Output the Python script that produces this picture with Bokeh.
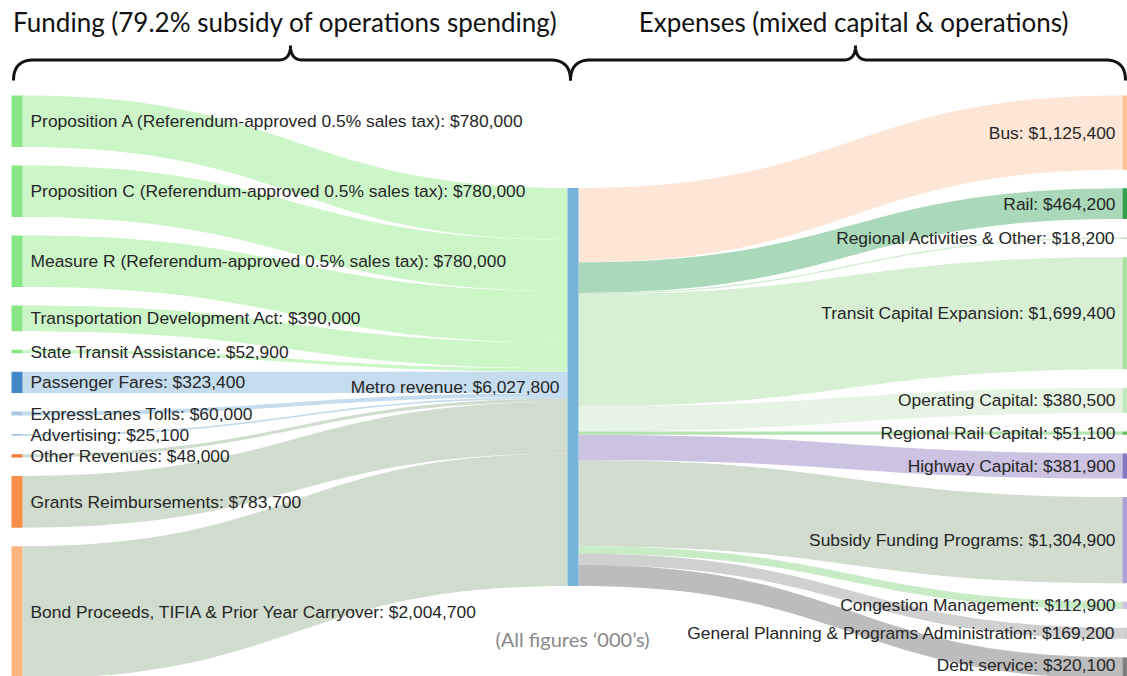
import numpy as np
from bokeh.plotting import figure
from bokeh.models import Range1d
from bokeh.core.properties import value
from bokeh.embed import file_html
from bokeh.resources import INLINE

# ---------------- data (thousands of $) ----------------
sources = [
    "Proposition A (Referendum-approved 0.5% sales tax)",
    "Proposition C (Referendum-approved 0.5% sales tax)",
    "Measure R (Referendum-approved 0.5% sales tax)",
    "Transportation Development Act",
    "State Transit Assistance",
    "Passenger Fares",
    "ExpressLanes Tolls",
    "Advertising",
    "Other Revenues",
    "Grants Reimbursements",
    "Bond Proceeds, TIFIA & Prior Year Carryover",
]
source_values = [780000, 780000, 780000, 390000, 52900, 323400, 60000, 25100, 48000, 783700, 2004700]

hub = "Metro revenue"

targets = [
    "Bus",
    "Rail",
    "Regional Activities & Other",
    "Transit Capital Expansion",
    "Operating Capital",
    "Regional Rail Capital",
    "Highway Capital",
    "Subsidy Funding Programs",
    "Congestion Management",
    "General Planning & Programs Administration",
    "Debt service",
]
target_values = [1125400, 464200, 18200, 1699400, 380500, 51100, 381900, 1304900, 112900, 169200, 320100]

title_left = "Funding (79.2% subsidy of operations spending)"
title_right = "Expenses (mixed capital & operations)"
note = "(All figures \u2018000\u2019s)"

# ---------------- styles ----------------
src_node_colors = ["#86e783", "#86e783", "#86e783", "#86e783", "#86e783",
                   "#3f88c5", "#a6c8e6", "#a6c8e6", "#f47a3c", "#f98e48", "#fdb47d"]
src_flow_colors = ["#ccf6c8", "#ccf6c8", "#ccf6c8", "#ccf6c8", "#ccf6c8",
                   "#c4dced", "#c4dced", "#c4dced", "#d0dcce", "#d0dcce", "#d0dcce"]
tgt_node_colors = ["#fdc08f", "#34a04c", "#a5dba5", "#a8e0a2", "#c2e9be", "#5fbf5f",
                   "#8479c0", "#a9a1d4", "#c8c4e2", "#cfcfcf", "#7f7f7f"]
tgt_flow_colors = ["#fde6d5", "#a9d9b8", "#cdebcd", "#d7f0d4", "#e6f4e4", "#b4e3b2",
                   "#cbc3e1", "#d1dccf", "#c6ebc5", "#d0d0d0", "#bcbcbc"]
hub_color = "#76b3da"
label_font = value("Liberation Sans")
label_color = "#262626"
label_size = "17.4px"

# ---------------- layout ----------------
W, H = 1127, 676
TOP, BOTTOM, GAP, NODE_W = 95.0, 678.0, 18.5, 11.0
X_LEFT, X_HUB, X_RIGHT = 11.0, 567.0, 1122.0
total = float(sum(source_values))
k = (BOTTOM - TOP - GAP * (len(sources) - 1)) / total


def stack(vals):
    y0s, y1s = [], []
    y = TOP
    for v in vals:
        h = v * k
        y0s.append(y)
        y1s.append(y + h)
        y += h + GAP
    return y0s, y1s


s_y0, s_y1 = stack(source_values)
t_y0, t_y1 = stack(target_values)
hub_h = total * k
hub_y0 = (TOP + BOTTOM) / 2 - hub_h / 2
hub_y1 = hub_y0 + hub_h


def band(xa, ya, xb, yb, w, n=50):
    t = np.linspace(0, 1, n)
    xm = (xa + xb) / 2
    bx = (1 - t) ** 3 * xa + 3 * (1 - t) ** 2 * t * xm + 3 * (1 - t) * t ** 2 * xm + t ** 3 * xb
    by = (1 - t) ** 3 * ya + 3 * (1 - t) ** 2 * t * ya + 3 * (1 - t) * t ** 2 * yb + t ** 3 * yb
    xs = np.concatenate([bx, bx[::-1]])
    ys = np.concatenate([by, (by + w)[::-1]])
    return list(xs), list(ys)


def label_y(a, b):
    # keep labels inside the visible frame
    return min((a + b) / 2, H - 12)


p = figure(width=W, height=H, x_range=Range1d(0, W), y_range=Range1d(H, 0),
           output_backend="svg", toolbar_location=None, min_border=0)
p.axis.visible = False
p.grid.visible = False
p.outline_line_color = None
p.background_fill_color = "white"
p.border_fill_color = "white"

# left flows
fx, fy, fc = [], [], []
acc = hub_y0
for v, y0, c in zip(source_values, s_y0, src_flow_colors):
    w = v * k
    xs, ys = band(X_LEFT + NODE_W, y0, X_HUB, acc, w)
    fx.append(xs); fy.append(ys); fc.append(c)
    acc += w
# right flows
acc = hub_y0
for v, y0, c in zip(target_values, t_y0, tgt_flow_colors):
    w = v * k
    xs, ys = band(X_HUB + NODE_W, acc, X_RIGHT, y0, w)
    fx.append(xs); fy.append(ys); fc.append(c)
    acc += w
p.patches(fx, fy, fill_color=fc, line_color=None)

# nodes
p.quad(left=[X_LEFT] * len(sources), right=[X_LEFT + NODE_W] * len(sources),
       top=s_y0, bottom=s_y1, fill_color=src_node_colors, line_color=None)
p.quad(left=[X_HUB], right=[X_HUB + NODE_W], top=[hub_y0], bottom=[hub_y1],
       fill_color=hub_color, line_color=None)
p.quad(left=[X_RIGHT] * len(targets), right=[X_RIGHT + NODE_W] * len(targets),
       top=t_y0, bottom=t_y1, fill_color=tgt_node_colors, line_color=None)

# labels
p.text(x=[X_LEFT + NODE_W + 8] * len(sources),
       y=[label_y(a, b) for a, b in zip(s_y0, s_y1)],
       text=[f"{n}: ${v:,}" for n, v in zip(sources, source_values)],
       text_align="left", text_baseline="middle", text_font=label_font,
       text_font_size=label_size, text_color=label_color)
p.text(x=[X_HUB - 8], y=[(hub_y0 + hub_y1) / 2], text=[f"{hub}: ${int(total):,}"],
       text_align="right", text_baseline="middle", text_font=label_font,
       text_font_size=label_size, text_color=label_color)
p.text(x=[X_RIGHT - 7] * len(targets),
       y=[label_y(a, b) for a, b in zip(t_y0, t_y1)],
       text=[f"{n}: ${v:,}" for n, v in zip(targets, target_values)],
       text_align="right", text_baseline="middle", text_font=label_font,
       text_font_size=label_size, text_color=label_color)


# braces
def brace(xl, xr, xt, yh=59.5, ye=80.0, yt=45.0, r=20.0, r2=12.0, n=20):
    t = np.linspace(0, 1, n)

    def q(p0, p1, p2):
        return ((1 - t) ** 2 * p0[0] + 2 * (1 - t) * t * p1[0] + t ** 2 * p2[0],
                (1 - t) ** 2 * p0[1] + 2 * (1 - t) * t * p1[1] + t ** 2 * p2[1])
    segs = [
        q((xl, ye), (xl, yh), (xl + r, yh)),
        q((xt - r2, yh), (xt, yh), (xt, yt)),
        q((xt, yt), (xt, yh), (xt + r2, yh)),
        q((xr - r, yh), (xr, yh), (xr, ye)),
    ]
    xs = np.concatenate([s[0] for s in segs])
    ys = np.concatenate([s[1] for s in segs])
    return xs, ys


for xl, xr, xt in [(13, 570, 290), (570, 1125, 855)]:
    bx, by = brace(xl, xr, xt)
    p.line(bx, by, line_color="#111111", line_width=3)

title_font = value("Lato")
p.text(x=[285], y=[21], text=[title_left], text_align="center",
       text_baseline="middle", text_font=title_font, text_font_size="26px",
       text_color="#111111")
p.text(x=[853], y=[21], text=[title_right], text_align="center",
       text_baseline="middle", text_font=title_font, text_font_size="26px",
       text_color="#111111")
p.text(x=[572], y=[638], text=[note], text_align="center", text_baseline="middle",
       text_font=title_font, text_font_size="20px", text_color="#888888")

open("out.html", "w").write(file_html(p, INLINE))
